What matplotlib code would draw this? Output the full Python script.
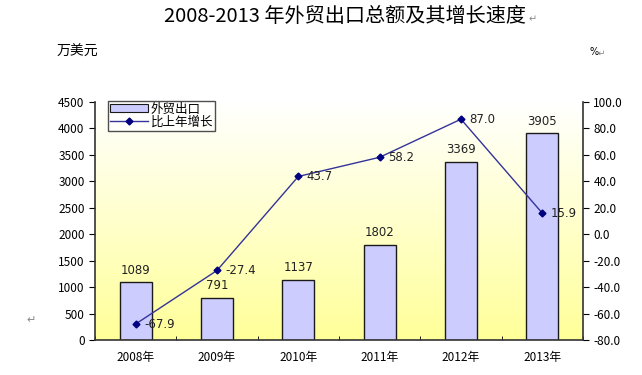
import matplotlib
matplotlib.use("Agg")
import matplotlib.pyplot as plt
import numpy as np
from matplotlib.lines import Line2D
from matplotlib.patches import Patch
from matplotlib.colors import LinearSegmentedColormap

plt.rcParams['font.family'] = ['Noto Sans CJK SC', 'DejaVu Sans']

years = ["2008年", "2009年", "2010年", "2011年", "2012年", "2013年"]
export_values = [1089, 791, 1137, 1802, 3369, 3905]
growth_rates = [-67.9, -27.4, 43.7, 58.2, 87.0, 15.9]

fig = plt.figure(figsize=(6.42, 3.75), dpi=100)
fig.patch.set_facecolor("white")
ax = fig.add_axes([95/642, 1-340/375, (583-95)/642, (340-102)/375])
ax2 = ax.twinx()

x = np.arange(len(years))
ax.set_xlim(-0.5, len(years) - 0.5)
ax.set_ylim(0, 4500)
ax2.set_ylim(-80, 100)

# gradient background (white top -> yellow bottom)
grad = np.linspace(0, 1, 256).reshape(-1, 1)
cmap = LinearSegmentedColormap.from_list("bg", ["#FFFF99", "#FFFFFF"])
ax.imshow(grad, aspect="auto", cmap=cmap, origin="lower",
          extent=[-0.5, len(years) - 0.5, 0, 4500], zorder=0)

ax.bar(x, export_values, width=0.39, color="#CCCCFF", edgecolor="#1a1a1a",
       linewidth=1.0, zorder=2)
for xi, v in zip(x, export_values):
    ax.text(xi, v + 110, f"{v}", ha="center", va="bottom", fontsize=8.5, color="#222222",
            family="DejaVu Sans")

ax2.plot(x, growth_rates, color="#333399", linewidth=1.0, marker="D", markersize=3.5,
         markerfacecolor="#000080", markeredgecolor="#000080", zorder=3)
for xi, v in zip(x, growth_rates):
    ax2.annotate(f"{v:.1f}", (xi, v), xytext=(6, 0), textcoords="offset points",
                 ha="left", va="center", fontsize=8.5, color="#222222", family="DejaVu Sans")

ax.set_yticks(np.arange(0, 4501, 500))
ax2.set_yticks(np.arange(-80, 101, 20))
ax2.set_yticklabels([f"{t:.1f}" for t in np.arange(-80, 101, 20)])
ax.set_xticks(x)
ax.set_xticklabels(years)
ax.set_xticks(np.arange(-0.5, len(years), 1), minor=True)
ax.tick_params(axis="x", which="major", length=0, labelsize=8.5, pad=8)
ax.tick_params(axis="x", which="minor", length=3, direction="in")
ax.tick_params(axis="y", labelsize=8.5, length=4, direction="out")
ax2.tick_params(axis="y", labelsize=8.5, length=4, direction="out")

for a in (ax, ax2):
    a.spines["top"].set_visible(False)
    for s in ("left", "right", "bottom"):
        a.spines[s].set_color("#333333")
        a.spines[s].set_linewidth(1.2)
ax.spines["right"].set_visible(False)
ax2.spines["left"].set_visible(False)
ax2.spines["bottom"].set_visible(False)

handles = [Patch(facecolor="#CCCCFF", edgecolor="#1a1a1a", linewidth=0.8),
           Line2D([0], [0], color="#333399", linewidth=1.0, marker="D", markersize=3.5,
                  markerfacecolor="#000080", markeredgecolor="#000080")]
leg = ax.legend(handles, ["外贸出口", "比上年增长"], loc="upper left",
                bbox_to_anchor=(0.027, 1.005), fontsize=9, frameon=True, fancybox=False,
                handlelength=3.0, handleheight=0.6, borderpad=0.15, labelspacing=0.0,
                handletextpad=0.25, borderaxespad=0)
leg.get_frame().set_edgecolor("#222222")
leg.get_frame().set_linewidth(1.0)
leg.get_frame().set_facecolor("white")

fig.text(345/642, 1-17/375, "2008-2013 年外贸出口总额及其增长速度", ha="center", va="center",
         fontsize=14.5, color="black")
fig.text(529/642, 1-19/375, "↵", ha="left", va="center", fontsize=7, color="#888888",
         family="DejaVu Sans")
fig.text(57/642, 1-52/375, "万美元", ha="left", va="center", fontsize=10, color="black")
fig.text(589/642, 1-52/375, "%", ha="left", va="center", fontsize=7, color="black",
         family="DejaVu Sans")
fig.text(598/642, 1-53/375, "↵", ha="left", va="center", fontsize=6.5, color="#888888",
         family="DejaVu Sans")
fig.text(26/642, 1-320/375, "↵", ha="left", va="center", fontsize=8, color="#888888",
         family="DejaVu Sans")

fig.savefig("out.png", dpi=100)
